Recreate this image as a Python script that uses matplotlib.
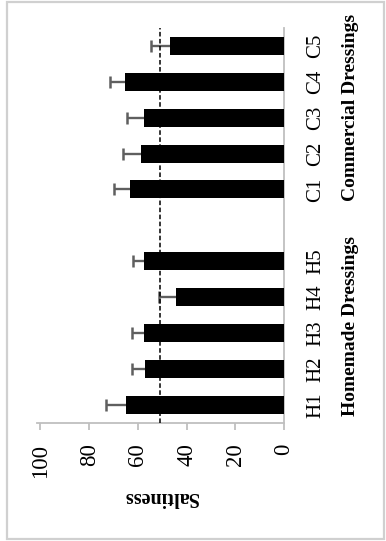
import matplotlib
matplotlib.use("Agg")
import matplotlib.pyplot as plt
from matplotlib.patches import Rectangle

plt.rcParams['font.family'] = ['Liberation Serif', 'DejaVu Serif']

# ---- data ----
homemade_labels = ['H1', 'H2', 'H3', 'H4', 'H5']
homemade_values = [64.9, 57.2, 57.6, 44.3, 57.3]
homemade_errors = [8.0, 5.2, 4.8, 7.1, 4.7]

commercial_labels = ['C1', 'C2', 'C3', 'C4', 'C5']
commercial_values = [63.1, 58.9, 57.6, 65.4, 47.0]
commercial_errors = [6.6, 7.4, 6.9, 6.2, 7.6]

group_names = ['Homemade Dressings', 'Commercial Dressings']
value_ticks = [0, 20, 40, 60, 80, 100]
reference_value = 51
axis_label = 'Saltiness'

# ---- layout ----
W, H, DPI = 386, 541, 100
fig = plt.figure(figsize=(W / DPI, H / DPI), dpi=DPI)

px_zero, px_full = 284.0, 36.8
py_bottom, py_top = 422.7, 28.0
ax = fig.add_axes([px_full / W, (H - py_bottom) / H,
                   (px_zero - px_full) / W, (py_bottom - py_top) / H])

labels = homemade_labels + commercial_labels
values = homemade_values + commercial_values
errors = homemade_errors + commercial_errors
pos = list(range(len(homemade_labels))) + \
      [len(homemade_labels) + 1 + i for i in range(len(commercial_labels))]

ax.barh(pos, values, height=0.5, color='black', zorder=3)

# one-sided error bars (cap only at the outer end)
tips = [v + e for v, e in zip(values, errors)]
ax.hlines(pos, values, tips, color='#5f5f5f', linewidth=1.7, zorder=4)
ax.plot(tips, pos, linestyle='none', marker='|', markersize=9,
        markeredgewidth=1.8, color='#5f5f5f', zorder=4)

ax.axvline(reference_value, color='black', linestyle=(0, (3, 1.6)),
           linewidth=1.1, zorder=5)

ax.set_xlim(101.5, 0)
ax.set_ylim(-0.5, pos[-1] + 0.5)

for s in ['top', 'left']:
    ax.spines[s].set_visible(False)
for s in ['bottom', 'right']:
    ax.spines[s].set_color('#bfbfbf')
    ax.spines[s].set_linewidth(1.3)

ax.set_xticks(value_ticks)
ax.set_xticklabels([str(v) for v in value_ticks])
ax.tick_params(axis='x', direction='out', length=5, width=1.3,
               color='#bfbfbf', pad=10, labelsize=16.5, labelrotation=90)

ax.yaxis.tick_right()
ax.set_yticks(pos)
ax.set_yticklabels(labels)
ax.tick_params(axis='y', length=0, pad=16, labelsize=15)
for t in ax.get_yticklabels():
    t.set_rotation(90)
    t.set_va('center')
    t.set_ha('left')

ax.set_xlabel(axis_label, fontsize=14.5, fontweight='bold', rotation=180,
              labelpad=7)

for name, first in zip(group_names, [pos[0], pos[len(homemade_labels)]]):
    ax.annotate(name, xy=(1, first), xycoords=ax.get_yaxis_transform(),
                xytext=(42, -8), textcoords='offset points',
                rotation=90, ha='left', va='bottom', fontsize=14,
                fontweight='bold', annotation_clip=False)

fig.patches.append(Rectangle((7 / W, 2 / H), (384 - 7) / W, (539 - 2) / H,
                             transform=fig.transFigure, fill=False,
                             edgecolor='#d0d0d0', linewidth=1.6))

fig.savefig('out.png', dpi=DPI)
